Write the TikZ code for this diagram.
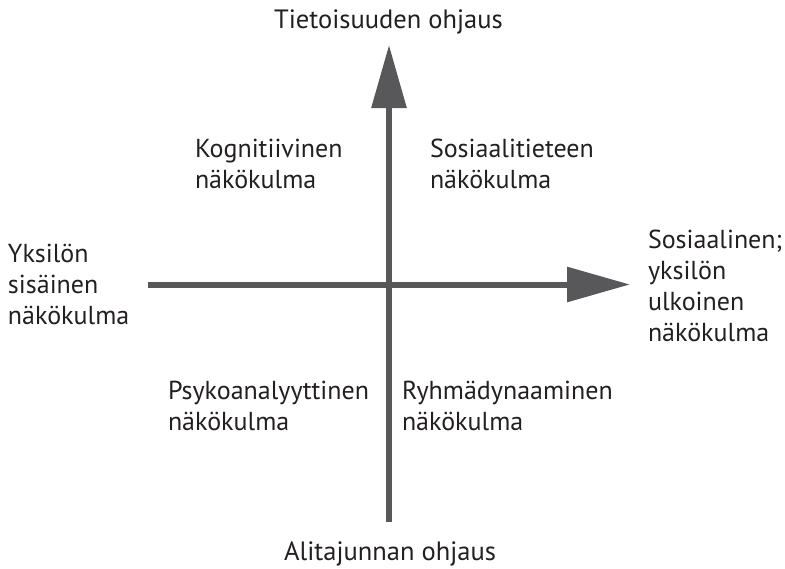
\documentclass[tikz,border=0pt]{standalone}
\usepackage{fontspec}
\setmainfont{PT Sans}
\usetikzlibrary{arrows.meta}
\definecolor{axisgray}{HTML}{58585A}
\definecolor{labelink}{HTML}{231F20}
\begin{document}
\begin{tikzpicture}[x=1pt,y=-1pt,
  axis/.style={draw=axisgray,line width=6pt,
    -{Triangle[length=63pt,width=34pt,fill=axisgray]}},
  lbl/.style={inner sep=0pt,outer sep=0pt,text=labelink,align=left,
    font=\fontsize{26}{31}\selectfont},
  axiscap/.style={inner sep=0pt,outer sep=0pt,text=labelink,
    font=\fontsize{26.5}{31}\selectfont}]
  \useasboundingbox (0,0) rectangle (785,568);

  % axis end points
  \coordinate (vbot) at (389,522);
  \coordinate (vtop) at (389,45);
  \coordinate (hleft) at (148,284.5);
  \coordinate (hright) at (630,284.5);

  \draw[axis] (vbot) -- (vtop);
  \draw[axis] (hleft) -- (hright);

  % axis captions (anchored at the baseline)
  \node[axiscap,anchor=base] (conscious) at (388.5,28) {Tietoisuuden ohjaus};
  \node[axiscap,anchor=base] (unconscious) at (390,560) {Alitajunnan ohjaus};

  % multi-line labels: anchored at the baseline of their last line
  \node[lbl,anchor=base west] (inner) at (8,324) {Yksilön\\sisäinen\\näkökulma};
  \node[lbl,anchor=base west] (outer) at (648,341) {Sosiaalinen;\\yksilön\\ulkoinen\\näkökulma};

  % quadrant labels
  \node[lbl,anchor=base west] (cogn) at (195,188) {Kognitiivinen\\näkökulma};
  \node[lbl,anchor=base west] (social) at (430,188) {Sosiaalitieteen\\näkökulma};
  \node[lbl,anchor=base west] (psycho) at (168,430) {Psykoanalyyttinen\\näkökulma};
  \node[lbl,anchor=base west] (group) at (402,430) {Ryhmädynaaminen\\näkökulma};
\end{tikzpicture}
\end{document}
